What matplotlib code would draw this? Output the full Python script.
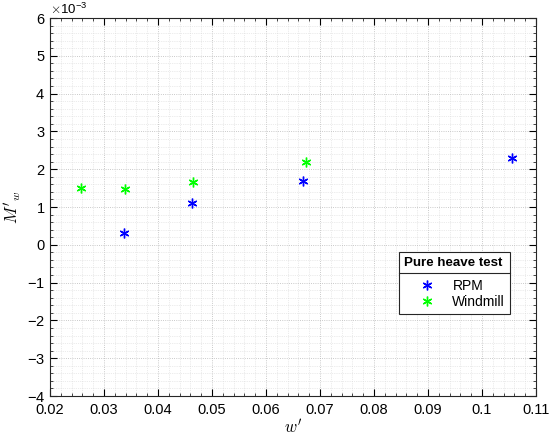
import matplotlib
matplotlib.use("Agg")
import matplotlib.pyplot as plt
from matplotlib.ticker import MultipleLocator, ScalarFormatter
from matplotlib.lines import Line2D

plt.rcParams["font.family"] = ["Liberation Sans", "DejaVu Sans"]
plt.rcParams["mathtext.fontset"] = "cm"

# Pure heave test data (M'_w in absolute units)
rpm_w = [0.0337, 0.0463, 0.0669, 0.1056]
rpm_m = [0.3e-3, 1.1e-3, 1.7e-3, 2.3e-3]
windmill_w = [0.0257, 0.0339, 0.0465, 0.0674]
windmill_m = [1.5e-3, 1.48e-3, 1.65e-3, 2.18e-3]

fig = plt.figure(figsize=(5.5, 4.36), dpi=100)
ax = fig.add_axes([0.0909, 0.0917, 0.8836, 0.867])

star = (6, 2, 0)
ax.plot(rpm_w, rpm_m, linestyle="none", marker=star, color=(0, 0, 1),
        markersize=7, markeredgewidth=1.0, label="RPM")
ax.plot(windmill_w, windmill_m, linestyle="none", marker=star, color=(0, 1, 0),
        markersize=7, markeredgewidth=1.0, label="Windmill")

ax.set_xlim(0.02, 0.11)
ax.set_ylim(-4e-3, 6e-3)
ax.xaxis.set_major_locator(MultipleLocator(0.01))
ax.xaxis.set_minor_locator(MultipleLocator(0.002))
ax.yaxis.set_major_locator(MultipleLocator(1e-3))
ax.yaxis.set_minor_locator(MultipleLocator(0.2e-3))
ax.xaxis.set_major_formatter(plt.FuncFormatter(lambda v, p: f"{v:g}"))

fmt = ScalarFormatter(useMathText=True)
fmt.set_powerlimits((-3, -3))
ax.yaxis.set_major_formatter(fmt)
ax.yaxis.get_offset_text().set_fontsize(9.5)

ax.tick_params(which="both", direction="in", top=True, right=True, labelsize=10.5)
ax.tick_params(axis="x", pad=5)
ax.tick_params(which="major", length=5, width=0.8)
ax.tick_params(which="minor", length=2.5, width=0.5)
for s in ax.spines.values():
    s.set_color("#262626")
    s.set_linewidth(0.8)

ax.grid(which="major", linestyle=":", color="#b8b8b8", linewidth=0.6)
ax.grid(which="minor", linestyle=":", color="#d8d8d8", linewidth=0.5)
ax.set_axisbelow(True)

ax.set_xlabel(r"$w'$", fontsize=12, labelpad=1)
ax.set_ylabel(r"$M'_w$", fontsize=12, labelpad=2)

leg = ax.legend(title="Pure heave test", loc="lower left",
                bbox_to_anchor=(0.718, 0.217),
                fancybox=False, edgecolor="#262626", framealpha=1,
                fontsize=10, borderpad=0.35, handletextpad=0.1,
                handlelength=3.4, labelspacing=0.15, borderaxespad=0)
leg.get_title().set_fontweight("bold")
leg.get_title().set_fontsize(9.6)
leg.get_frame().set_linewidth(0.8)
leg._legend_box.align = "left"
leg._legend_box.sep = 7

fig.canvas.draw()
lb = leg.get_window_extent()
tb = leg.get_title().get_window_extent()
yline = tb.y0 - 4
inv = fig.transFigure.inverted()
x0, y0 = inv.transform((lb.x0, yline))
x1, _ = inv.transform((lb.x1, yline))
fig.add_artist(Line2D([x0, x1], [y0, y0], color="#262626", linewidth=0.8))

fig.savefig("out.png", dpi=100)
